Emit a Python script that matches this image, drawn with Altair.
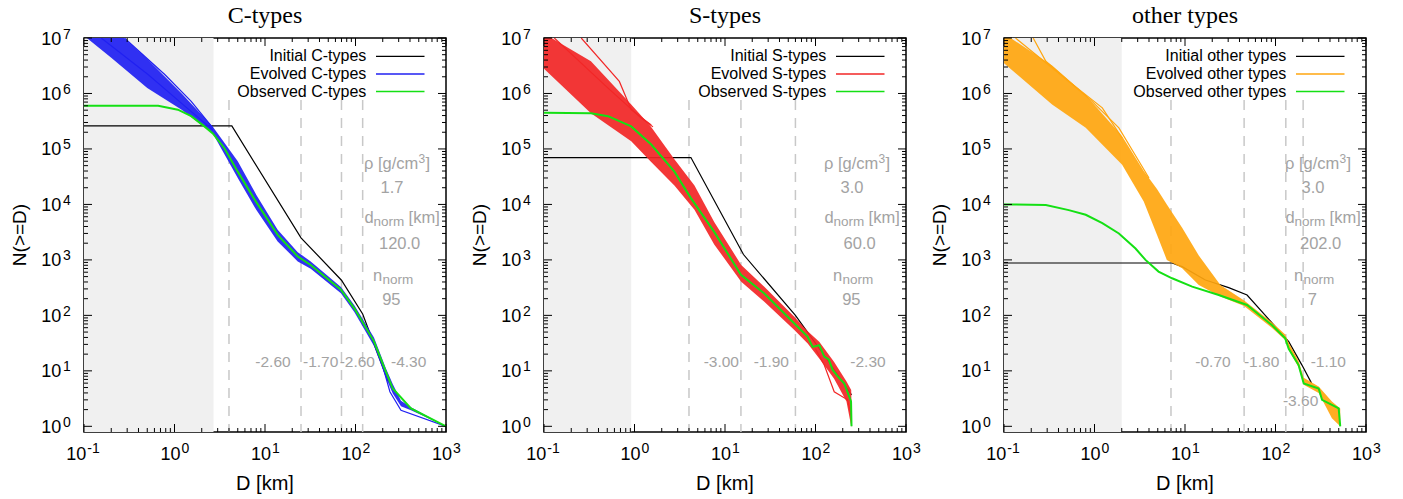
import altair as alt
import pandas as pd

W, H = 362, 394
X_DOMAIN = [0.1, 1000]
Y_DOMAIN = [0.79, 1e7]

SANS = "Liberation Sans"
SERIF = "Liberation Serif"
GRAY_TXT = "#a3a3a3"
GREEN = "#14e014"
SHADE = "#f0f0f0"
DASH = "#c8c8c8"

# ---------------- tick values / labels ----------------
X_MAJOR = [0.1, 1, 10, 100, 1000]
X_EXP = ["-1", "0", "1", "2", "3"]
X_DECADES = [0.1, 1, 10, 100]
Y_MAJOR = [1, 10, 100, 1e3, 1e4, 1e5, 1e6, 1e7]
Y_EXP = ["0", "1", "2", "3", "4", "5", "6", "7"]
Y_DECADES = [1, 10, 100, 1e3, 1e4, 1e5, 1e6]
MINOR_MULT = [2, 3, 4, 5, 6, 7, 8, 9]

# ---------------- C-types ----------------
C_TITLE = "C-types"
C_LEG = ["Initial C-types", "Evolved C-types", "Observed C-types"]
C_COLOR = "#2020f2"
C_SHADE_END = 2.7
C_DASHES = [4, 25, 70, 120]
C_SLOPES = ["-2.60", "-1.70", "-2.60", "-4.30"]
C_RHO, C_DNORM, C_NNORM = "1.7", "120.0", "95"
C_INIT_D = [0.1, 4.3, 25, 70, 120, 230]
C_INIT_N = [2.6e5, 2.6e5, 2500, 430, 106, 6.4]
C_OBS_D = [0.1, 0.66, 1.09, 1.53, 2.14, 2.65, 3.56, 5, 8, 13.8, 23, 32, 69, 97, 160, 217, 258, 410, 1000]
C_OBS_N = [6.0e5, 6.0e5, 5.1e5, 3.9e5, 2.55e5, 1.9e5, 1.03e5, 3.9e4, 1.1e4, 2830, 1150, 810, 290, 134, 34, 9.6, 4.8, 2.1, 1.0]
C_BAND_D = [0.1, 0.2, 0.5, 1.2, 2.65, 5, 8, 13.8, 23, 32, 69, 97, 160, 217, 258, 318, 410, 1000]
C_BAND_LO = [1.1e7, 4.4e6, 1.25e6, 5.1e5, 1.9e5, 3.0e4, 8.0e3, 2150, 940, 690, 250, 115, 28, 7.5, 3.9, 2.3, 1.95, 1.0]
C_BAND_HI = [4e7, 1.6e7, 4.2e6, 1.0e6, 2.5e5, 6.0e4, 1.5e4, 3500, 1380, 940, 325, 152, 40, 11, 5.8, 2.9, 2.2, 1.0]
C_STRANDS = [
    ([0.155, 0.51, 1.19, 2.65], [1e7, 2.2e6, 6.7e5, 2.2e5]),
    ([0.28, 0.78, 1.53, 2.65], [1e7, 2.2e6, 7.2e5, 2.4e5]),
    ([200, 240, 318, 1000], [12, 4.2, 1.95, 1.0]),
]

# ---------------- S-types ----------------
S_TITLE = "S-types"
S_LEG = ["Initial S-types", "Evolved S-types", "Observed S-types"]
S_COLOR = "#f22626"
S_SHADE_END = 0.92
S_DASHES = [4, 15, 60]
S_SLOPES = ["-3.00", "-1.90", "-2.30"]
S_RHO, S_DNORM, S_NNORM = "3.0", "60.0", "95"
S_INIT_D = [0.1, 4.2, 16, 60, 136, 250]
S_INIT_N = [7.0e4, 7.0e4, 1250, 100, 15.7, 3.7]
S_OBS_D = [0.1, 0.33, 0.51, 0.92, 1.53, 2.76, 4.2, 7.6, 15, 27, 58, 82, 93, 110, 125, 140, 155, 175, 208, 247, 250]
S_OBS_N = [4.5e5, 4.4e5, 3.9e5, 2.55e5, 1.2e5, 3.9e4, 1.3e4, 3200, 540, 250, 72, 41, 27, 29, 18, 16, 10.4, 8.0, 5.9, 2.8, 1.0]
S_BAND_D = [0.1, 0.33, 0.92, 1.5, 2.76, 4.6, 7.6, 15.1, 27, 58, 82, 110, 160, 220, 248, 252]
S_BAND_LO = [2.8e6, 4.4e5, 1.37e5, 6.0e4, 2.2e4, 8.0e3, 1900, 405, 177, 55, 31, 16.7, 7.3, 2.8, 1.0, 1.0]
S_BAND_HI = [1.2e7, 3.8e6, 6.3e5, 2.6e5, 6.5e4, 2.2e4, 4.8e3, 813, 330, 95, 52, 33.5, 14.6, 6.4, 4.5, 1.2]
S_STRANDS = [
    ([0.258, 0.68, 0.92, 1.53], [1e7, 1.65e6, 5.1e5, 2.7e5]),
    ([0.13, 0.51, 1.19, 1.6], [1e7, 1.25e6, 3.6e5, 2.5e5]),
    ([100, 125, 161, 226, 247], [25, 12.7, 4.2, 3.0, 1.6]),
]

# ---------------- other types ----------------
O_TITLE = "other types"
O_LEG = ["Initial other types", "Evolved other types", "Observed other types"]
O_COLOR = "#ffa60f"
O_SHADE_END = 2.0
O_DASHES = [7, 45, 130, 202]
O_SLOPES = ["-0.70", "-1.80", "-1.10", "-3.60"]
O_RHO, O_DNORM, O_NNORM = "3.0", "202.0", "7"
O_INIT_D = [0.1, 7.2, 9.3, 16.8, 30.4, 48.5, 140, 196, 250]
O_INIT_N = [880, 880, 757, 435, 316, 233, 33.5, 12.7, 6.0]
O_OBS_D = [0.1, 0.29, 0.52, 0.8, 1.22, 1.86, 2.84, 3.66, 5.1, 7.2, 12, 23.6, 48.5, 91, 128, 140, 180, 205, 300, 327, 499, 519]
O_OBS_N = [1.0e4, 9.8e3, 7.9e3, 6.5e3, 4.6e3, 3.0e3, 1.6e3, 1.0e3, 615, 466, 330, 233, 154, 67, 38.5, 25, 12.7, 5.9, 4.8, 3.0, 2.1, 1.0]
O_BAND_D = [0.1, 0.34, 0.8, 2.02, 3.5, 4.9, 6.3, 9.3, 14.2, 24.6, 45, 91, 128, 140, 180, 205, 300, 420, 519]
O_BAND_LO = [3.5e6, 6.3e5, 2.4e5, 5.2e4, 1.13e4, 2830, 1000, 705, 354, 220, 148, 60, 36, 24, 11.5, 5.6, 4.0, 1.4, 1.0]
O_BAND_HI = [1.2e7, 3.2e6, 9.4e5, 1.7e5, 4.0e4, 1.9e4, 1.0e4, 3.8e3, 1.2e3, 354, 185, 75, 45, 32, 15, 7.5, 5.2, 2.8, 2.1]
O_STRANDS = [
    ([0.21, 0.29, 0.94, 1.86, 4.0], [1e7, 3.8e6, 7.2e5, 2.4e5, 3.0e4]),
    ([0.134, 0.52, 1.22, 2.02], [1e7, 1.65e6, 5.5e5, 1.57e5]),
]


def XS():
    return alt.Scale(type="log", domain=X_DOMAIN, nice=False)


def YS():
    return alt.Scale(type="log", domain=Y_DOMAIN, nice=False)


def X(f):
    return alt.X(f, type="quantitative", scale=XS(), axis=None)


def Y(f):
    return alt.Y(f, type="quantitative", scale=YS(), axis=None)


ONE = alt.Data(values=[{"k": 0}])


def txt(s, x, y, size, color="black", align="center", baseline="middle", font=SANS, angle=None):
    kw = dict(align=align, baseline=baseline, font=font, fontSize=size, color=color)
    if angle is not None:
        kw["angle"] = angle
    return alt.Chart(ONE).mark_text(**kw).encode(x=alt.value(x), y=alt.value(y), text=alt.value(s))


def ticks():
    out = []
    x_minor = [d * m for d in X_DECADES for m in MINOR_MULT]
    y_minor = [d * m for d in Y_DECADES for m in MINOR_MULT]
    for vals, L in [(X_MAJOR, 8), (x_minor, 4)]:
        df = pd.DataFrame({"v": vals})
        out.append(alt.Chart(df).mark_rule(color="black", strokeWidth=1).encode(
            x=X("v"), y=alt.value(H), y2=alt.value(H - L)))
        out.append(alt.Chart(df).mark_rule(color="black", strokeWidth=1).encode(
            x=X("v"), y=alt.value(0), y2=alt.value(L)))
    for vals, L in [(Y_MAJOR, 8), (y_minor, 4)]:
        df = pd.DataFrame({"v": vals})
        out.append(alt.Chart(df).mark_rule(color="black", strokeWidth=1).encode(
            y=Y("v"), x=alt.value(0), x2=alt.value(L)))
        out.append(alt.Chart(df).mark_rule(color="black", strokeWidth=1).encode(
            y=Y("v"), x=alt.value(W), x2=alt.value(W - L)))
    return out


def tick_labels():
    out = []
    xl = pd.DataFrame({"v": X_MAJOR[1:], "e": X_EXP[1:]})
    out.append(alt.Chart(xl).mark_text(align="right", baseline="alphabetic", dx=6, font=SANS, fontSize=18).encode(
        x=X("v"), y=alt.value(H + 27.6), text=alt.value("10")))
    out.append(alt.Chart(xl).mark_text(align="left", baseline="alphabetic", dx=7, font=SANS, fontSize=14).encode(
        x=X("v"), y=alt.value(H + 21), text="e:N"))
    x0 = pd.DataFrame({"v": X_MAJOR[:1], "e": X_EXP[:1]})
    out.append(alt.Chart(x0).mark_text(align="right", baseline="alphabetic", dx=2.3, font=SANS, fontSize=18).encode(
        x=X("v"), y=alt.value(H + 27.6), text=alt.value("10")))
    out.append(alt.Chart(x0).mark_text(align="left", baseline="alphabetic", dx=3.3, font=SANS, fontSize=14).encode(
        x=X("v"), y=alt.value(H + 21), text="e:N"))
    yl = pd.DataFrame({"v": Y_MAJOR, "e": Y_EXP})
    out.append(alt.Chart(yl).mark_text(align="right", baseline="alphabetic", dy=6.5, font=SANS, fontSize=18).encode(
        x=alt.value(-22.7), y=Y("v"), text=alt.value("10")))
    out.append(alt.Chart(yl).mark_text(align="left", baseline="alphabetic", dy=0.5, font=SANS, fontSize=14).encode(
        x=alt.value(-21), y=Y("v"), text="e:N"))
    return out


def panel(title, leg, color, shade_end, dashes, slopes, slope_x, rho, dnorm, nnorm,
          init_d, init_n, obs_d, obs_n, band_d, band_lo, band_hi, strands, ann_dx=0.0, extra_slope=None):
    layers = []
    layers.append(alt.Chart(pd.DataFrame({"a": [X_DOMAIN[0]], "b": [shade_end]})).mark_rect(color=SHADE).encode(
        x=X("a"), x2="b:Q", y=alt.value(0), y2=alt.value(H)))
    layers.append(alt.Chart(pd.DataFrame({"v": dashes})).mark_rule(
        color=DASH, strokeDash=[10, 8], strokeWidth=1.5).encode(x=X("v"), y=alt.value(62), y2=alt.value(H)))
    layers.append(alt.Chart(pd.DataFrame({"d": init_d, "n": init_n})).mark_line(
        color="black", strokeWidth=1.2, clip=True).encode(x=X("d"), y=Y("n")))
    layers.append(alt.Chart(pd.DataFrame({"d": band_d, "lo": band_lo, "hi": band_hi})).mark_area(
        color=color, opacity=0.92, clip=True).encode(x=X("d"), y=Y("lo"), y2="hi:Q"))
    rows = []
    for i, (sd, sn) in enumerate(strands):
        for d, n in zip(sd, sn):
            rows.append({"d": d, "n": n, "g": i})
    layers.append(alt.Chart(pd.DataFrame(rows)).mark_line(
        color=color, strokeWidth=1.2, clip=True).encode(x=X("d"), y=Y("n"), detail="g:N"))
    layers.append(alt.Chart(pd.DataFrame({"d": obs_d, "n": obs_n})).mark_line(
        color=GREEN, strokeWidth=2, clip=True).encode(x=X("d"), y=Y("n")))
    layers += ticks()
    layers += tick_labels()
    # legend
    for i, (lab, c) in enumerate(zip(leg, ["black", color, GREEN])):
        yy = 18.3 + 17.6 * i
        layers.append(txt(lab, 282.3, yy, 16, align="right"))
        layers.append(alt.Chart(ONE).mark_rule(color=c, strokeWidth=1.5 if i else 1.2).encode(
            x=alt.value(292), x2=alt.value(340.5), y=alt.value(yy)))
    # annotations
    a = ann_dx
    layers.append(txt("ρ [g/cm", 280 + a, 130.5, 16.5, GRAY_TXT, align="left", baseline="alphabetic"))
    layers.append(txt("3", 334.5 + a, 125, 12, GRAY_TXT, align="left", baseline="alphabetic"))
    layers.append(txt("]", 341.5 + a, 130.5, 16.5, GRAY_TXT, align="left", baseline="alphabetic"))
    layers.append(txt(rho, 308 + a, 150, 16.5, GRAY_TXT))
    layers.append(txt("d", 280.6 + a, 185, 16.5, GRAY_TXT, align="left", baseline="alphabetic"))
    layers.append(txt("norm", 289.5 + a, 188, 13.5, GRAY_TXT, align="left", baseline="alphabetic"))
    layers.append(txt("[km]", 324.6 + a, 185, 16.5, GRAY_TXT, align="left", baseline="alphabetic"))
    layers.append(txt(dnorm, 315.6 + a, 206, 16.5, GRAY_TXT))
    layers.append(txt("n", 289 + a, 243.3, 16.5, GRAY_TXT, align="left", baseline="alphabetic"))
    layers.append(txt("norm", 298.5 + a, 246.3, 13.5, GRAY_TXT, align="left", baseline="alphabetic"))
    layers.append(txt(nnorm, 307.3 + a, 261.7, 16.5, GRAY_TXT))
    for s, sx in zip(slopes, slope_x):
        layers.append(txt(s, sx, 324, 15.5, GRAY_TXT))
    if extra_slope:
        layers.append(txt(extra_slope[0], extra_slope[1], extra_slope[2], 15.5, GRAY_TXT))
    # titles
    layers.append(txt(title, W / 2, -15, 24, font=SERIF, baseline="alphabetic"))
    layers.append(txt("D [km]", W / 2, H + 51.8, 20))
    layers.append(txt("N(>=D)", -64, H / 2, 19, angle=270))
    return alt.layer(*layers).properties(width=W, height=H)


p1 = panel(C_TITLE, C_LEG, C_COLOR, C_SHADE_END, C_DASHES, C_SLOPES, [189, 236.7, 273.3, 324.7],
           C_RHO, C_DNORM, C_NNORM, C_INIT_D, C_INIT_N, C_OBS_D, C_OBS_N,
           C_BAND_D, C_BAND_LO, C_BAND_HI, C_STRANDS)
p2 = panel(S_TITLE, S_LEG, S_COLOR, S_SHADE_END, S_DASHES, S_SLOPES, [177.3, 227.3, 324],
           S_RHO, S_DNORM, S_NNORM, S_INIT_D, S_INIT_N, S_OBS_D, S_OBS_N,
           S_BAND_D, S_BAND_LO, S_BAND_HI, S_STRANDS)
p3 = panel(O_TITLE, O_LEG, O_COLOR, O_SHADE_END, O_DASHES, O_SLOPES[:3], [209, 257.6, 324.3],
           O_RHO, O_DNORM, O_NNORM, O_INIT_D, O_INIT_N, O_OBS_D, O_OBS_N,
           O_BAND_D, O_BAND_LO, O_BAND_HI, O_STRANDS, ann_dx=1.0,
           extra_slope=(O_SLOPES[3], 296.6, 362.6))

chart = alt.hconcat(p1, p2, p3, spacing=98, bounds="flush").properties(
    padding={"left": 10, "top": 3, "right": 0, "bottom": 0}
).configure_view(stroke="black", strokeWidth=1.5)

chart.save("out.html", embed_options={"renderer": "svg", "actions": False})
